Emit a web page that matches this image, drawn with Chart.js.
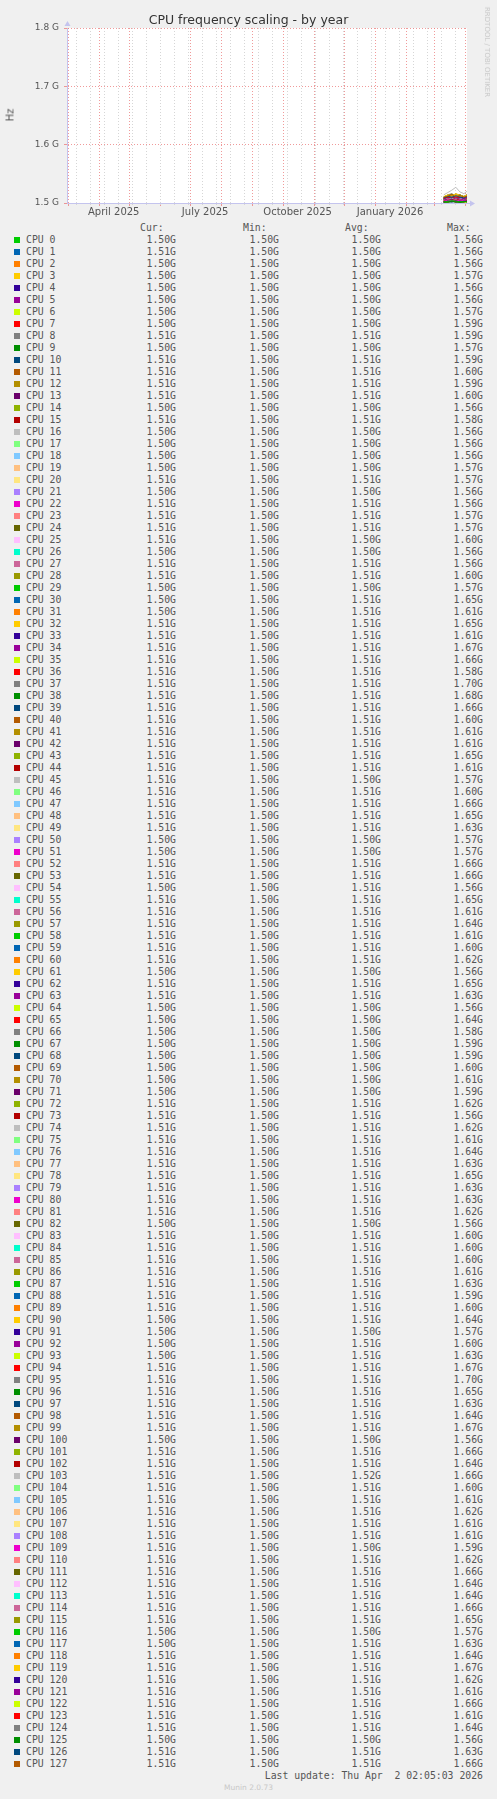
<!DOCTYPE html>
<html>
<head>
<meta charset="utf-8">
<script src="https://cdn.jsdelivr.net/npm/chart.js@4.4.1/dist/chart.umd.min.js"></script>
<style>
body { margin: 0; background: #f0f0f0; }
#wrap { position: relative; width: 497px; height: 1799px; background: #f0f0f0; font-family: "DejaVu Sans", sans-serif; overflow: hidden; }
#myChart { position: absolute; left: 0; top: 0; }
.t { position: absolute; white-space: pre; }
.mono { font-family: "DejaVu Sans Mono", monospace; font-size: 9.8px; color: #555; line-height: 12px; height: 12px; }
.num { width: 80px; text-align: right; }
.sw { position: absolute; width: 6px; height: 6px; left: 14px; }
</style>
</head>
<body>
<div id="wrap">
  <canvas id="myChart" width="497" height="222"></canvas>
  <div class="t" style="left:0;width:497px;top:13px;text-align:center;font-size:12.5px;line-height:14px;color:#333;">CPU frequency scaling - by year</div>
  <div class="t" style="left:10px;top:115px;font-size:10px;color:#555;transform:translate(-50%,-50%) rotate(-90deg);">Hz</div>
  <div class="t" style="left:487px;top:52px;font-size:7px;color:#c8c8c8;transform:translate(-50%,-50%) rotate(90deg);">RRDTOOL / TOBI OETIKER</div>
  <div id="legend"></div>
</div>
<script>
// days counted from 1 April 2025; graph ends Thu Apr 2 2026 02:05
const sampleDays = [343, 347, 351, 355, 359, 363, 366];

const freqG = [
  [1.502,1.501,1.503,1.502,1.501,1.502,1.501],
  [1.503,1.502,1.504,1.503,1.502,1.503,1.504],
  [1.501,1.503,1.502,1.501,1.502,1.503,1.501],
  [1.502,1.504,1.503,1.502,1.503,1.502,1.501],
  [1.501,1.502,1.501,1.503,1.502,1.501,1.502],
  [1.502,1.501,1.502,1.501,1.503,1.502,1.501],
  [1.503,1.502,1.504,1.503,1.502,1.503,1.502],
  [1.502,1.504,1.503,1.505,1.503,1.502,1.503],
  [1.506,1.508,1.507,1.509,1.506,1.507,1.508],
  [1.502,1.503,1.502,1.504,1.503,1.502,1.503],
  [1.506,1.507,1.509,1.506,1.508,1.507,1.506],
  [1.507,1.509,1.508,1.510,1.507,1.508,1.509],
  [1.506,1.508,1.507,1.506,1.509,1.507,1.508],
  [1.507,1.510,1.508,1.509,1.507,1.510,1.508],
  [1.501,1.502,1.503,1.502,1.501,1.502,1.503],
  [1.505,1.507,1.506,1.508,1.506,1.505,1.507],
  [1.501,1.502,1.501,1.502,1.503,1.501,1.502],
  [1.502,1.501,1.503,1.502,1.501,1.502,1.502],
  [1.501,1.503,1.502,1.501,1.502,1.501,1.503],
  [1.503,1.502,1.504,1.502,1.503,1.504,1.502],
  [1.505,1.507,1.506,1.508,1.506,1.507,1.505],
  [1.502,1.503,1.502,1.501,1.503,1.502,1.501],
  [1.505,1.506,1.508,1.506,1.505,1.507,1.506],
  [1.506,1.505,1.507,1.508,1.506,1.505,1.507],
  [1.506,1.508,1.507,1.506,1.509,1.507,1.506],
  [1.503,1.505,1.504,1.503,1.505,1.504,1.503],
  [1.502,1.501,1.502,1.503,1.502,1.501,1.502],
  [1.505,1.507,1.506,1.505,1.507,1.506,1.505],
  [1.507,1.509,1.508,1.510,1.508,1.507,1.509],
  [1.502,1.503,1.504,1.502,1.503,1.502,1.503],
  [1.508,1.511,1.509,1.512,1.510,1.508,1.511],
  [1.507,1.509,1.510,1.508,1.509,1.511,1.508],
  [1.509,1.512,1.510,1.514,1.511,1.509,1.513],
  [1.508,1.510,1.509,1.511,1.509,1.510,1.508],
  [1.510,1.513,1.511,1.515,1.512,1.510,1.514],
  [1.509,1.512,1.514,1.511,1.513,1.510,1.512],
  [1.506,1.508,1.507,1.509,1.507,1.506,1.508],
  [1.510,1.514,1.512,1.516,1.513,1.511,1.515],
  [1.510,1.513,1.515,1.512,1.514,1.511,1.513],
  [1.509,1.511,1.513,1.510,1.512,1.511,1.510],
  [1.507,1.509,1.508,1.510,1.508,1.509,1.507],
  [1.508,1.510,1.509,1.511,1.508,1.510,1.509],
  [1.507,1.510,1.508,1.509,1.511,1.508,1.509],
  [1.509,1.512,1.510,1.513,1.511,1.509,1.512],
  [1.508,1.509,1.511,1.509,1.510,1.508,1.510],
  [1.503,1.504,1.503,1.505,1.504,1.503,1.504],
  [1.507,1.508,1.510,1.508,1.509,1.507,1.508],
  [1.510,1.512,1.514,1.511,1.513,1.510,1.512],
  [1.509,1.512,1.510,1.513,1.511,1.510,1.512],
  [1.508,1.511,1.509,1.512,1.510,1.509,1.511],
  [1.502,1.503,1.504,1.503,1.502,1.503,1.504],
  [1.503,1.502,1.504,1.503,1.504,1.502,1.503],
  [1.509,1.512,1.514,1.511,1.512,1.510,1.513],
  [1.510,1.513,1.511,1.514,1.512,1.510,1.512],
  [1.505,1.506,1.505,1.507,1.505,1.506,1.505],
  [1.509,1.511,1.513,1.510,1.512,1.509,1.511],
  [1.508,1.510,1.509,1.511,1.509,1.508,1.510],
  [1.509,1.511,1.510,1.512,1.510,1.511,1.509],
  [1.507,1.509,1.511,1.508,1.510,1.509,1.508],
  [1.507,1.508,1.509,1.508,1.510,1.507,1.509],
  [1.508,1.510,1.509,1.512,1.509,1.508,1.511],
  [1.502,1.501,1.503,1.502,1.503,1.502,1.501],
  [1.509,1.512,1.510,1.513,1.511,1.509,1.512],
  [1.508,1.510,1.512,1.509,1.511,1.510,1.509],
  [1.501,1.502,1.503,1.501,1.502,1.501,1.502],
  [1.503,1.505,1.504,1.503,1.504,1.505,1.503],
  [1.502,1.503,1.504,1.503,1.502,1.503,1.502],
  [1.503,1.504,1.503,1.502,1.504,1.503,1.502],
  [1.502,1.504,1.503,1.504,1.502,1.503,1.504],
  [1.503,1.504,1.502,1.504,1.503,1.502,1.504],
  [1.503,1.504,1.505,1.503,1.504,1.503,1.502],
  [1.502,1.503,1.504,1.502,1.503,1.504,1.503],
  [1.508,1.510,1.509,1.511,1.509,1.508,1.510],
  [1.505,1.507,1.506,1.505,1.507,1.506,1.505],
  [1.508,1.509,1.511,1.509,1.510,1.508,1.509],
  [1.507,1.509,1.510,1.508,1.509,1.508,1.510],
  [1.508,1.511,1.509,1.512,1.510,1.509,1.511],
  [1.508,1.510,1.512,1.509,1.511,1.509,1.510],
  [1.509,1.512,1.510,1.513,1.511,1.510,1.512],
  [1.508,1.511,1.509,1.510,1.512,1.509,1.510],
  [1.509,1.510,1.512,1.510,1.511,1.509,1.511],
  [1.508,1.510,1.509,1.511,1.509,1.510,1.508],
  [1.501,1.502,1.503,1.502,1.501,1.502,1.503],
  [1.507,1.509,1.508,1.510,1.508,1.507,1.509],
  [1.507,1.508,1.510,1.508,1.509,1.507,1.508],
  [1.506,1.508,1.509,1.507,1.508,1.510,1.508],
  [1.507,1.510,1.508,1.509,1.511,1.508,1.509],
  [1.508,1.511,1.509,1.512,1.510,1.508,1.510],
  [1.506,1.508,1.507,1.509,1.507,1.508,1.506],
  [1.507,1.509,1.508,1.510,1.508,1.507,1.509],
  [1.508,1.510,1.512,1.509,1.511,1.509,1.508],
  [1.502,1.504,1.503,1.502,1.503,1.504,1.502],
  [1.506,1.508,1.507,1.509,1.508,1.506,1.507],
  [1.508,1.510,1.509,1.511,1.510,1.508,1.507],
  [1.510,1.513,1.511,1.515,1.512,1.510,1.513],
  [1.510,1.514,1.516,1.512,1.514,1.511,1.513],
  [1.509,1.512,1.510,1.513,1.511,1.510,1.512],
  [1.508,1.510,1.509,1.512,1.510,1.509,1.511],
  [1.509,1.511,1.510,1.513,1.511,1.509,1.512],
  [1.510,1.513,1.515,1.512,1.514,1.511,1.513],
  [1.502,1.503,1.502,1.504,1.503,1.502,1.503],
  [1.509,1.512,1.510,1.513,1.511,1.510,1.512],
  [1.509,1.511,1.513,1.510,1.512,1.510,1.511],
  [1.514,1.518,1.522,1.527,1.519,1.516,1.520],
  [1.507,1.509,1.508,1.510,1.509,1.507,1.509],
  [1.508,1.510,1.509,1.511,1.509,1.508,1.510],
  [1.508,1.511,1.509,1.510,1.512,1.509,1.510],
  [1.508,1.509,1.511,1.509,1.510,1.508,1.510],
  [1.507,1.510,1.508,1.511,1.509,1.508,1.510],
  [1.503,1.505,1.504,1.503,1.505,1.504,1.503],
  [1.508,1.510,1.509,1.512,1.510,1.508,1.511],
  [1.510,1.512,1.514,1.511,1.513,1.510,1.512],
  [1.509,1.511,1.510,1.513,1.511,1.509,1.512],
  [1.509,1.512,1.510,1.511,1.513,1.510,1.511],
  [1.510,1.513,1.511,1.514,1.512,1.510,1.513],
  [1.509,1.512,1.514,1.511,1.512,1.510,1.512],
  [1.502,1.503,1.504,1.503,1.502,1.503,1.502],
  [1.508,1.510,1.509,1.511,1.510,1.508,1.509],
  [1.509,1.511,1.513,1.510,1.512,1.510,1.511],
  [1.511,1.514,1.512,1.516,1.513,1.511,1.514],
  [1.508,1.510,1.509,1.512,1.510,1.508,1.510],
  [1.508,1.509,1.511,1.509,1.510,1.508,1.509],
  [1.510,1.513,1.511,1.514,1.512,1.510,1.512],
  [1.508,1.510,1.509,1.511,1.509,1.510,1.508],
  [1.509,1.512,1.510,1.513,1.511,1.509,1.511],
  [1.502,1.501,1.503,1.502,1.501,1.502,1.503],
  [1.509,1.511,1.510,1.512,1.510,1.509,1.511],
  [1.510,1.512,1.514,1.511,1.513,1.510,1.512]
];

// legend columns, GHz
const curG = [
  1.50,1.51,1.50,1.50,1.50,1.50,1.50,1.50,1.51,1.50, 1.51,1.51,1.51,1.51,1.50,1.51,1.50,1.50,1.50,1.50,
  1.51,1.50,1.51,1.51,1.51,1.51,1.50,1.51,1.51,1.50, 1.50,1.50,1.51,1.51,1.51,1.51,1.51,1.51,1.51,1.51,
  1.51,1.51,1.51,1.51,1.51,1.51,1.51,1.51,1.51,1.51, 1.50,1.50,1.51,1.51,1.50,1.51,1.51,1.51,1.51,1.51,
  1.51,1.50,1.51,1.51,1.50,1.50,1.50,1.50,1.50,1.50, 1.50,1.50,1.51,1.51,1.51,1.51,1.51,1.51,1.51,1.51,
  1.51,1.51,1.50,1.51,1.51,1.51,1.51,1.51,1.51,1.51, 1.50,1.50,1.50,1.50,1.51,1.51,1.51,1.51,1.51,1.51,
  1.50,1.51,1.51,1.51,1.51,1.51,1.51,1.51,1.51,1.51, 1.51,1.51,1.51,1.51,1.51,1.51,1.50,1.50,1.51,1.51,
  1.51,1.51,1.51,1.51,1.51,1.50,1.51,1.51
];
const minG = [
  1.50,1.50,1.50,1.50,1.50,1.50,1.50,1.50,1.50,1.50, 1.50,1.50,1.50,1.50,1.50,1.50,1.50,1.50,1.50,1.50,
  1.50,1.50,1.50,1.50,1.50,1.50,1.50,1.50,1.50,1.50, 1.50,1.50,1.50,1.50,1.50,1.50,1.50,1.50,1.50,1.50,
  1.50,1.50,1.50,1.50,1.50,1.50,1.50,1.50,1.50,1.50, 1.50,1.50,1.50,1.50,1.50,1.50,1.50,1.50,1.50,1.50,
  1.50,1.50,1.50,1.50,1.50,1.50,1.50,1.50,1.50,1.50, 1.50,1.50,1.50,1.50,1.50,1.50,1.50,1.50,1.50,1.50,
  1.50,1.50,1.50,1.50,1.50,1.50,1.50,1.50,1.50,1.50, 1.50,1.50,1.50,1.50,1.50,1.50,1.50,1.50,1.50,1.50,
  1.50,1.50,1.50,1.50,1.50,1.50,1.50,1.50,1.50,1.50, 1.50,1.50,1.50,1.50,1.50,1.50,1.50,1.50,1.50,1.50,
  1.50,1.50,1.50,1.50,1.50,1.50,1.50,1.50
];
const avgG = [
  1.50,1.50,1.50,1.50,1.50,1.50,1.50,1.50,1.51,1.50, 1.51,1.51,1.51,1.51,1.50,1.51,1.50,1.50,1.50,1.50,
  1.51,1.50,1.51,1.51,1.51,1.50,1.50,1.51,1.51,1.50, 1.51,1.51,1.51,1.51,1.51,1.51,1.51,1.51,1.51,1.51,
  1.51,1.51,1.51,1.51,1.51,1.50,1.51,1.51,1.51,1.51, 1.50,1.50,1.51,1.51,1.51,1.51,1.51,1.51,1.51,1.51,
  1.51,1.50,1.51,1.51,1.50,1.50,1.50,1.50,1.50,1.50, 1.50,1.50,1.51,1.51,1.51,1.51,1.51,1.51,1.51,1.51,
  1.51,1.51,1.50,1.51,1.51,1.51,1.51,1.51,1.51,1.51, 1.51,1.50,1.51,1.51,1.51,1.51,1.51,1.51,1.51,1.51,
  1.50,1.51,1.51,1.52,1.51,1.51,1.51,1.51,1.51,1.50, 1.51,1.51,1.51,1.51,1.51,1.51,1.50,1.51,1.51,1.51,
  1.51,1.51,1.51,1.51,1.51,1.50,1.51,1.51
];
const maxG = [
  1.56,1.56,1.56,1.57,1.56,1.56,1.57,1.59,1.59,1.57, 1.59,1.60,1.59,1.60,1.56,1.58,1.56,1.56,1.56,1.57,
  1.57,1.56,1.56,1.57,1.57,1.60,1.56,1.56,1.60,1.57, 1.65,1.61,1.65,1.61,1.67,1.66,1.58,1.70,1.68,1.66,
  1.60,1.61,1.61,1.65,1.61,1.57,1.60,1.66,1.65,1.63, 1.57,1.57,1.66,1.66,1.56,1.65,1.61,1.64,1.61,1.60,
  1.62,1.56,1.65,1.63,1.56,1.64,1.58,1.59,1.59,1.60, 1.61,1.59,1.62,1.56,1.62,1.61,1.64,1.63,1.65,1.63,
  1.63,1.62,1.56,1.60,1.60,1.60,1.61,1.63,1.59,1.60, 1.64,1.57,1.60,1.63,1.67,1.70,1.65,1.63,1.64,1.67,
  1.56,1.66,1.64,1.66,1.60,1.61,1.62,1.61,1.61,1.59, 1.62,1.66,1.64,1.64,1.66,1.65,1.57,1.63,1.64,1.67,
  1.62,1.61,1.66,1.61,1.64,1.56,1.63,1.66
];

const yTicks = [1.5, 1.6, 1.7, 1.8];
const monthStartDays = [-31, 0, 30, 61, 91, 122, 153, 183, 214, 244, 275, 306, 334, 365];
const monthLabelDays = [14.5, 105.5, 197.5, 289.5];
const monthLabels = ['April 2025', 'July 2025', 'October 2025', 'January 2026'];

const palette = ['#00CC00','#0066B3','#FF8000','#FFCC00','#330099','#990099','#CCFF00','#FF0000','#808080',
  '#008F00','#00487D','#B35A00','#B38F00','#6B006B','#8FB300','#B30000','#BEBEBE','#80FF80','#80C9FF',
  '#FFC080','#FFE680','#AA80FF','#EE00CC','#FF8080','#666600','#FFBFFF','#00FFCC','#CC6699','#999900'];

const xMin = -32, xMax = 366.09;
// minor grid every second sunday
let minorDays = [];
for (let d = -23; d < xMax; d += 14) minorDays.push(d);

let datasets = [];
for (let i = 0; i < freqG.length; i++) {
    datasets.push({
        label: 'CPU ' + i,
        data: sampleDays.map((d, k) => ({ x: d, y: freqG[i][k] })),
        borderColor: palette[i % palette.length],
        borderWidth: 1,
        pointRadius: 0,
        fill: false,
        order: freqG.length - i
    });
}

const redGrid = 'rgba(235,120,120,0.75)';
const axisBlue = '#c4c4ee';

const plotBg = {
    id: 'plotBg',
    beforeDraw(c) {
        const a = c.chartArea;
        c.ctx.save();
        c.ctx.fillStyle = '#ffffff';
        c.ctx.fillRect(a.left, a.top, a.right - a.left, a.bottom - a.top);
        c.ctx.restore();
    }
};
const arrows = {
    id: 'arrows',
    afterDraw(c) {
        const a = c.chartArea, ctx = c.ctx;
        ctx.save();
        ctx.strokeStyle = axisBlue;
        ctx.fillStyle = axisBlue;
        ctx.beginPath();
        ctx.moveTo(a.right, a.bottom + 0.5);
        ctx.lineTo(a.right + 4, a.bottom + 0.5);
        ctx.stroke();
        ctx.beginPath();
        ctx.moveTo(a.right + 3, a.bottom - 2.5);
        ctx.lineTo(a.right + 8, a.bottom + 0.5);
        ctx.lineTo(a.right + 3, a.bottom + 3.5);
        ctx.fill();
        ctx.beginPath();
        ctx.moveTo(a.left - 2.5, a.top - 2);
        ctx.lineTo(a.left + 0.5, a.top - 7);
        ctx.lineTo(a.left + 3.5, a.top - 2);
        ctx.fill();
        ctx.restore();
    }
};

let ctx = document.getElementById('myChart').getContext('2d');
let chart = new Chart(ctx, {
    type: 'line',
    data: { datasets: datasets },
    plugins: [plotBg, arrows],
    options: {
        responsive: false,
        animation: false,
        layout: { padding: { top: 28, right: 30, left: 0, bottom: 0 } },
        plugins: { legend: { display: false }, tooltip: { enabled: false }, title: { display: false } },
        scales: {
            x: {
                type: 'linear', min: xMin, max: xMax, weight: 0,
                afterBuildTicks: (a) => { a.ticks = monthStartDays.map(v => ({ value: v })); },
                afterFit: (a) => { a.height = 0; },
                ticks: { display: false },
                grid: { color: redGrid, drawTicks: true, tickLength: 3, tickColor: redGrid },
                border: { display: true, color: axisBlue, dash: [1, 2] }
            },
            xMinor: {
                type: 'linear', position: 'bottom', min: xMin, max: xMax, weight: 1,
                afterBuildTicks: (a) => { a.ticks = minorDays.map(v => ({ value: v })); },
                afterFit: (a) => { a.height = 0; },
                ticks: { display: false },
                grid: { color: '#d6d6d6', drawTicks: true, tickLength: 2, tickColor: '#d6d6d6' },
                border: { display: false, dash: [1, 2] }
            },
            xLab: {
                type: 'linear', position: 'bottom', min: xMin, max: xMax, weight: 2,
                afterBuildTicks: (a) => { a.ticks = monthLabelDays.map(v => ({ value: v })); },
                afterFit: (a) => { a.height = 19; },
                grid: { display: false, drawTicks: false },
                border: { display: false },
                ticks: {
                    padding: 3, maxRotation: 0, autoSkip: false, color: '#555',
                    font: { family: 'DejaVu Sans', size: 10 },
                    callback: (v, i) => monthLabels[i]
                }
            },
            y: {
                type: 'linear', min: 1.5, max: 1.8,
                afterBuildTicks: (a) => { a.ticks = yTicks.map(v => ({ value: v })); },
                afterFit: (a) => { a.width = 67; },
                ticks: {
                    padding: 5, color: '#555',
                    font: { family: 'DejaVu Sans', size: 9 },
                    callback: (v) => v.toFixed(1) + ' G'
                },
                grid: { color: redGrid, drawTicks: true, tickLength: 3, tickColor: redGrid },
                border: { color: axisBlue, dash: [1, 2] }
            }
        }
    }
});

// legend table under the graph
let legend = document.getElementById('legend');
let html = '';
function txt(left, top, s, cls) {
    return '<div class="t mono ' + (cls || '') + '" style="left:' + left + 'px;top:' + top + 'px;">' + s + '</div>';
}
html += txt(140, 222, 'Cur:') + txt(243, 222, 'Min:') + txt(345, 222, 'Avg:') + txt(447, 222, 'Max:');
const colRight = [176, 279, 381, 483];
for (let i = 0; i < freqG.length; i++) {
    let top = 234 + 12 * i;
    html += '<div class="sw" style="top:' + (top + 3) + 'px;background:' + palette[i % palette.length] + ';"></div>';
    html += txt(26, top, 'CPU ' + i);
    [curG, minG, avgG, maxG].forEach((col, k) => {
        html += txt(colRight[k] - 80, top, col[i].toFixed(2) + 'G', 'num');
    });
}
html += '<div class="t mono" style="left:183px;width:300px;text-align:right;top:1770px;">Last update: Thu Apr  2 02:05:03 2026</div>';
html += '<div class="t" style="left:0;width:497px;text-align:center;top:1783px;font-size:7.5px;line-height:10px;color:#c8c8c8;">Munin 2.0.73</div>';
legend.innerHTML = html;
</script>
</body>
</html>
